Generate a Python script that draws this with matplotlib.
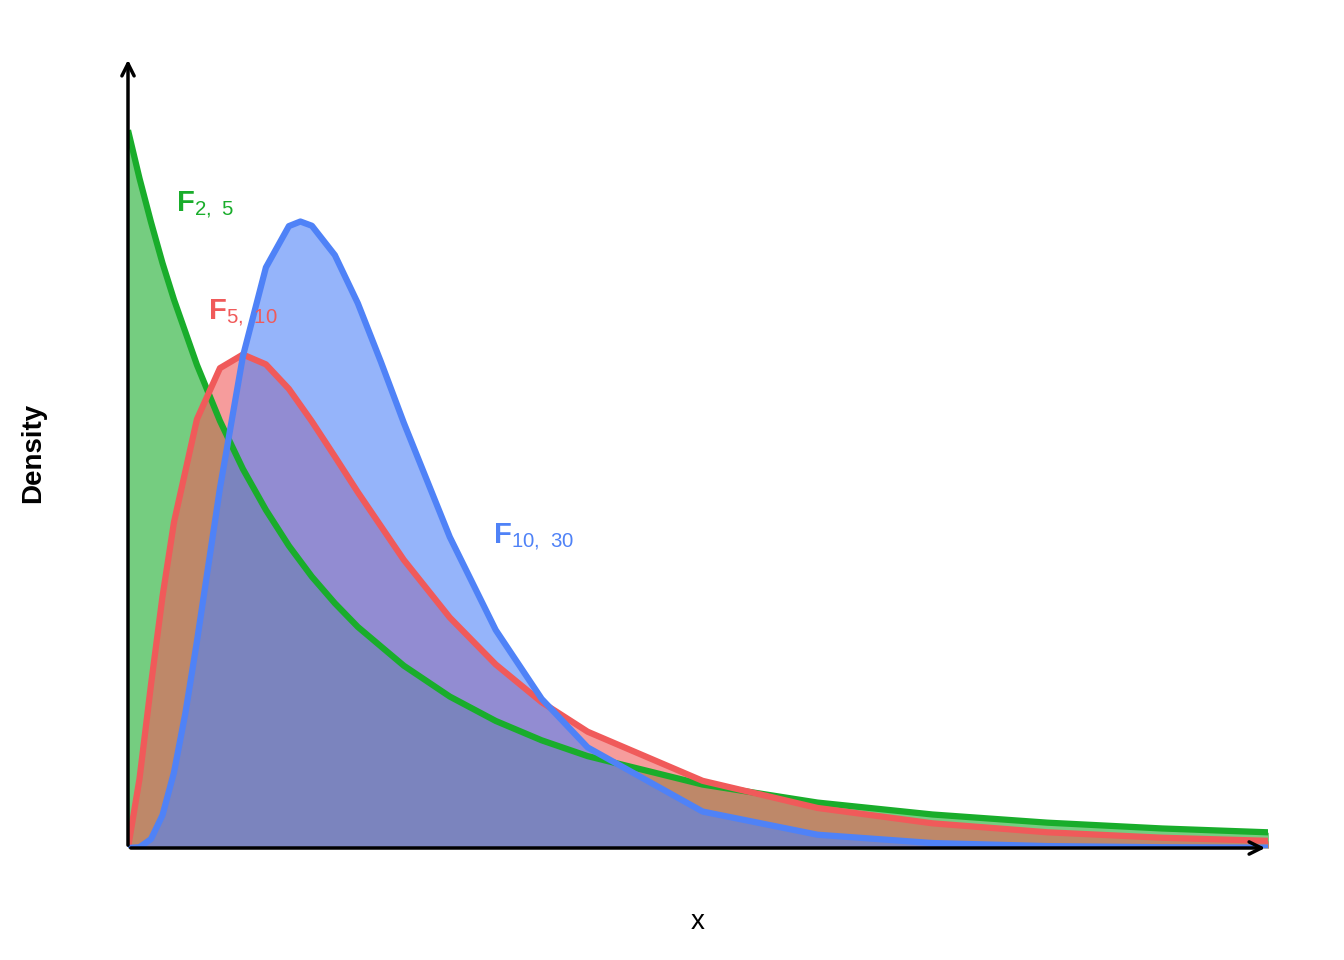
import matplotlib
matplotlib.use("Agg")
import matplotlib.pyplot as plt

plt.rcParams['font.family'] = ['Liberation Sans', 'DejaVu Sans']
plt.rcParams['mathtext.fontset'] = 'custom'
plt.rcParams['mathtext.rm'] = 'Liberation Sans'
plt.rcParams['mathtext.bf'] = 'Liberation Sans:bold'

x_a = [0, 0.05, 0.1, 0.15, 0.2, 0.3, 0.4, 0.5, 0.6, 0.7, 0.8, 0.9, 1.0, 1.2, 1.4, 1.6, 1.8, 2.0, 2.5, 3.0, 3.5, 4.0, 4.5, 5.0]
f_2_5 = [1.0, 0.933, 0.872, 0.815, 0.764, 0.673, 0.595, 0.528, 0.471, 0.421, 0.378, 0.341, 0.308, 0.254, 0.211, 0.177, 0.150, 0.128, 0.0884, 0.0633, 0.0467, 0.0353, 0.0272, 0.0214]
f_5_10 = [0.0, 0.0963, 0.2274, 0.3502, 0.4538, 0.5974, 0.6685, 0.6875, 0.6738, 0.6396, 0.5943, 0.5454, 0.4957, 0.4014, 0.3211, 0.2557, 0.2031, 0.1620, 0.0936, 0.0558, 0.0344, 0.0219, 0.0143, 0.00962]
x_b = [0, 0.05, 0.1, 0.15, 0.2, 0.25, 0.3, 0.4, 0.5, 0.6, 0.7, 0.75, 0.8, 0.9, 1.0, 1.1, 1.2, 1.4, 1.6, 1.8, 2.0, 2.5, 3.0, 3.5, 4.0, 4.5, 5.0]
f_10_30 = [0.0, 0.00107, 0.0124, 0.0457, 0.1053, 0.1885, 0.2880, 0.5011, 0.6852, 0.8088, 0.8664, 0.8728, 0.8669, 0.8260, 0.7589, 0.6776, 0.5924, 0.4333, 0.3037, 0.2077, 0.1401, 0.0508, 0.0185, 0.00691, 0.00268, 0.00108, 0.00045]

green, red, blue = '#19ad2b', '#f05a5a', '#4f82f7'

fig = plt.figure(figsize=(13.44, 9.6), dpi=100)
ax = fig.add_axes([128/1344, 1-848/960, 1140/1344, 791/960])
series = [(x_a, f_2_5, green), (x_a, f_5_10, red), (x_b, f_10_30, blue)]
for xs, ys, c in series:
    ax.fill_between(xs, ys, 0, color=c, alpha=0.6, lw=0, zorder=1)
for xs, ys, c in series:
    ax.plot(xs, ys, color=c, lw=4.5, zorder=2, solid_capstyle='butt')
ax.set_xlim(0, 4.96)
ax.set_ylim(0, 1.102)
for s in ax.spines.values():
    s.set_visible(False)
ax.set_xticks([]); ax.set_yticks([])
ax.annotate('', xy=(1.0, 0), xytext=(0, 0), xycoords='axes fraction',
            arrowprops=dict(arrowstyle='->', lw=2.5, color='black', mutation_scale=22), zorder=5)
ax.annotate('', xy=(0, 1.0), xytext=(0, 0), xycoords='axes fraction',
            arrowprops=dict(arrowstyle='->', lw=2.5, color='black', mutation_scale=22), zorder=5)

ax.text(0.21, 0.895, r'$\mathbf{F}_{\mathrm{2,\ 5}}$', color=green, fontsize=21, va='center', ha='left')
ax.text(0.35, 0.745, r'$\mathbf{F}_{\mathrm{5,\ 10}}$', color=red, fontsize=21, va='center', ha='left')
ax.text(1.59, 0.433, r'$\mathbf{F}_{\mathrm{10,\ 30}}$', color=blue, fontsize=21, va='center', ha='left')

fig.text(698/1344, 1-922/960, 'x', fontsize=20, ha='center', va='center')
fig.text(33/1344, 1-453/960, 'Density', fontsize=20, fontweight='bold', rotation=90, ha='center', va='center')
fig.savefig('out.png', dpi=100)
